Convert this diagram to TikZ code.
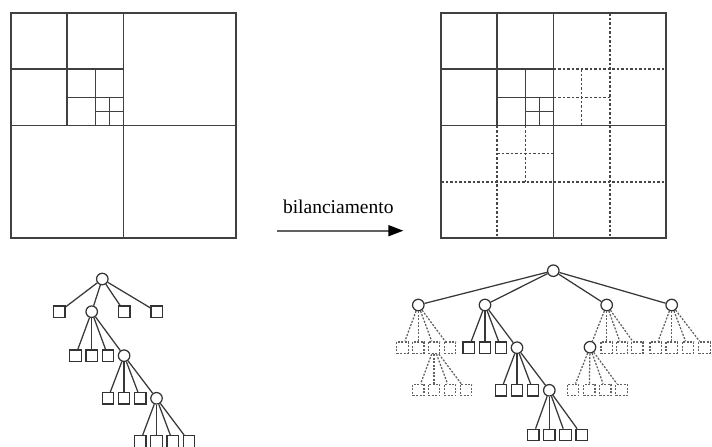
\documentclass[tikz,border=0pt]{standalone}
\usepackage{fontspec}
\setmainfont{Liberation Serif}
\usetikzlibrary{arrows.meta}
\begin{document}
\begin{tikzpicture}[x=1pt,y=-1pt,
  ln/.style={line width=1.7pt, draw=black!75},
  dl/.style={line width=1.7pt, draw=black!72, dash pattern=on 2.5pt off 2pt},
  cn/.style={circle, draw=black!80, line width=1.25pt, fill=white, minimum size=11.5pt, inner sep=0pt},
  sn/.style={rectangle, draw=black!80, line width=1.25pt, minimum size=11.5pt, inner sep=0pt},
  dsn/.style={sn, draw=black!62, dash pattern=on 2pt off 1.5pt},
  se/.style={line width=1.25pt, draw=black!78},
  de/.style={line width=1.25pt, draw=black!62, dash pattern=on 2pt off 1.5pt}]
\useasboundingbox (0,0) rectangle (712,447);
\fill[white] (0,0) rectangle (712,447);

% ---------- left quadtree ----------
\begin{scope}[shift={(11,13)}, x=225pt, y=-225pt]
  \draw[ln] (0,0) rectangle (1,1);
  \draw[ln] (0.5,0) -- (0.5,1) (0,0.5) -- (1,0.5)
            (0.25,0) -- (0.25,0.5) (0,0.25) -- (0.5,0.25)
            (0.375,0.25) -- (0.375,0.5) (0.25,0.375) -- (0.5,0.375)
            (0.4375,0.375) -- (0.4375,0.5) (0.375,0.4375) -- (0.5,0.4375);
\end{scope}

% ---------- right quadtree ----------
\begin{scope}[shift={(441,13)}, x=225pt, y=-225pt]
  \draw[dl] (0.75,0) -- (0.75,1)
            (0.5,0.25) -- (1,0.25)
            (0.625,0.25) -- (0.625,0.5) (0.5,0.375) -- (0.75,0.375)
            (0,0.75) -- (1,0.75)
            (0.25,0.5) -- (0.25,1)
            (0.375,0.5) -- (0.375,0.75) (0.25,0.625) -- (0.5,0.625);
  \draw[ln] (0,0) rectangle (1,1);
  \draw[ln] (0.5,0) -- (0.5,1) (0,0.5) -- (1,0.5)
            (0.25,0) -- (0.25,0.5) (0,0.25) -- (0.5,0.25)
            (0.375,0.25) -- (0.375,0.5) (0.25,0.375) -- (0.5,0.375)
            (0.4375,0.375) -- (0.4375,0.5) (0.375,0.4375) -- (0.5,0.4375);
\end{scope}

% ---------- arrow ----------
\node[anchor=base, font=\fontsize{19.5}{22}\selectfont, inner sep=0pt] (lbl) at (338.3,213.3) {bilanciamento};
\coordinate (as) at (276.7,230.7);
\coordinate (ae) at (403.3,230.7);
\draw[line width=1.7pt, draw=black!62, -{Triangle[length=15pt,width=11pt,color=black]}] (as) -- (ae);

% ---------- left tree ----------
\node[cn] (L0) at (102.3,279) {};
\node[sn] (L1a) at (59.3,311.7) {};
\node[cn] (L1b) at (91.7,311.7) {};
\node[sn] (L1c) at (124.3,311.7) {};
\node[sn] (L1d) at (156.7,311.7) {};
\node[sn] (L2a) at (75.5,355.7) {};
\node[sn] (L2b) at (91.7,355.7) {};
\node[sn] (L2c) at (107.9,355.7) {};
\node[cn] (L2d) at (124.1,355.7) {};
\node[sn] (L3a) at (107.9,398.3) {};
\node[sn] (L3b) at (124.1,398.3) {};
\node[sn] (L3c) at (140.3,398.3) {};
\node[cn] (L3d) at (156.5,398.3) {};
\node[sn] (L4a) at (140.3,441.4) {};
\node[sn] (L4b) at (156.5,441.4) {};
\node[sn] (L4c) at (172.7,441.4) {};
\node[sn] (L4d) at (188.9,441.4) {};
\foreach \c in {L1a,L1b,L1c,L1d} \draw[se] (L0) -- (\c);
\foreach \c in {L2a,L2b,L2c,L2d} \draw[se] (L1b) -- (\c);
\foreach \c in {L3a,L3b,L3c,L3d} \draw[se] (L2d) -- (\c);
\foreach \c in {L4a,L4b,L4c,L4d} \draw[se] (L3d) -- (\c);

% ---------- right tree ----------
\node[cn] (R0) at (553.3,270.7) {};
\node[cn] (A) at (418.3,305) {};
\node[cn] (B) at (485,305) {};
\node[cn] (C) at (606.7,305) {};
\node[cn] (D) at (671.7,305) {};
\foreach \c in {A,B,C,D} \draw[se] (R0) -- (\c);

\node[dsn] (A1) at (402.5,347.7) {};
\node[dsn] (A2) at (418.3,347.7) {};
\node[dsn] (A3) at (434.1,347.7) {};
\node[dsn] (A4) at (449.9,347.7) {};
\foreach \c in {A1,A2,A3,A4} \draw[de] (A) -- (\c);
\node[dsn] (A31) at (418.3,390) {};
\node[dsn] (A32) at (434.1,390) {};
\node[dsn] (A33) at (449.9,390) {};
\node[dsn] (A34) at (465.9,390) {};
\foreach \c in {A31,A32,A33,A34} \draw[de] (A3) -- (\c);

\node[sn] (B1) at (468.8,347.7) {};
\node[sn] (B2) at (485,347.7) {};
\node[sn] (B3) at (501,347.7) {};
\node[cn] (B4) at (517,347.7) {};
\foreach \c in {B1,B2,B3,B4} \draw[se] (B) -- (\c);
\node[sn] (B41) at (501,390.3) {};
\node[sn] (B42) at (517,390.3) {};
\node[sn] (B43) at (533,390.3) {};
\node[cn] (B44) at (549.3,390.3) {};
\foreach \c in {B41,B42,B43,B44} \draw[se] (B4) -- (\c);
\node[sn] (B441) at (533.3,435) {};
\node[sn] (B442) at (549.3,435) {};
\node[sn] (B443) at (565.5,435) {};
\node[sn] (B444) at (581.7,435) {};
\foreach \c in {B441,B442,B443,B444} \draw[se] (B44) -- (\c);

\node[cn] (C1) at (590,347.2) {};
\node[dsn] (C2) at (606.7,347.7) {};
\node[dsn] (C3) at (622,347.7) {};
\node[dsn] (C4) at (637.3,347.7) {};
\foreach \c in {C1,C2,C3,C4} \draw[de] (C) -- (\c);
\node[dsn] (C11) at (573,390) {};
\node[dsn] (C12) at (589.3,390) {};
\node[dsn] (C13) at (605.3,390) {};
\node[dsn] (C14) at (621.5,390) {};
\foreach \c in {C11,C12,C13,C14} \draw[de] (C1) -- (\c);

\node[dsn] (D1) at (655.7,347.7) {};
\node[dsn] (D2) at (671.7,347.7) {};
\node[dsn] (D3) at (688,347.7) {};
\node[dsn] (D4) at (704.5,347.7) {};
\foreach \c in {D1,D2,D3,D4} \draw[de] (D) -- (\c);
\end{tikzpicture}
\end{document}
